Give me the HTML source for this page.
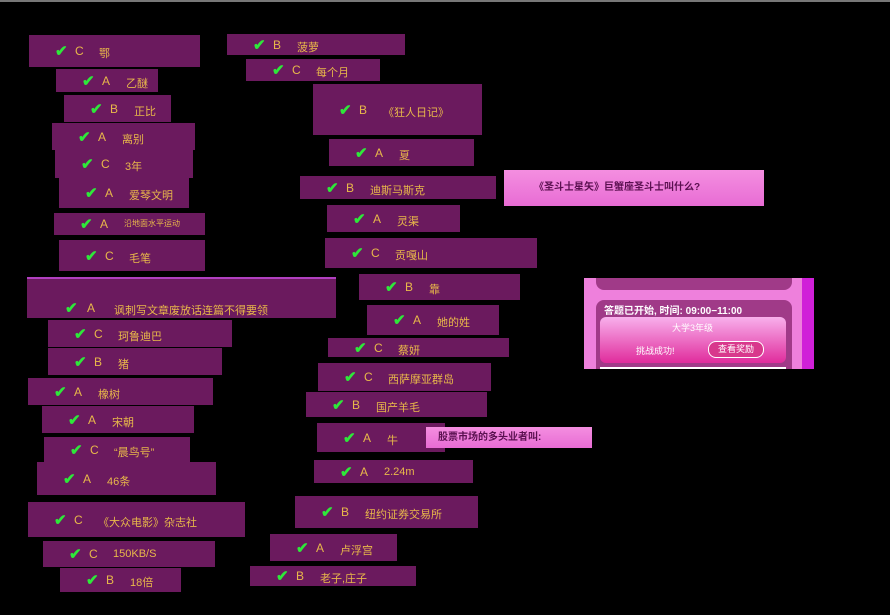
<!DOCTYPE html>
<html><head><meta charset="utf-8"><style>
body{margin:0;width:890px;height:615px;background:#000;position:relative;overflow:hidden;font-family:"Liberation Sans","Noto Sans CJK SC",sans-serif}
.b{position:absolute;background:#6b1a5e;color:#e8b84a;font-size:11px;box-sizing:border-box}
.b span{position:absolute;white-space:nowrap}
.b .l{font-size:12px}
.ck{color:#2ee83a;font-weight:bold;font-size:15px}
.p{position:absolute;background:linear-gradient(#f48ee0,#e86cd4);color:#5a1050;font-size:10px;font-weight:bold;padding-left:30px;box-sizing:border-box}
</style></head><body>
<div style="position:absolute;left:0;top:0;width:890px;height:2px;background:#777"></div>
<div id="c"></div>
<div class="p" style="left:504px;top:170px;width:260px;height:36px;line-height:36px">《圣斗士星矢》巨蟹座圣斗士叫什么?</div>
<div class="p" style="left:426px;top:427px;width:166px;height:21px;line-height:21px;padding-left:12px">股票市场的多头业者叫:</div>
<div style="position:absolute;left:584px;top:278px;width:230px;height:91px;background:#ee80dc">
 <div style="position:absolute;left:12px;top:0;width:196px;height:12px;background:#a03a88;border-radius:0 0 8px 8px"></div>
 <div style="position:absolute;right:0;top:0;width:12px;height:91px;background:#d020d8"></div>
 <div style="position:absolute;left:12px;top:22px;width:196px;height:69px;background:#a03a88;border-radius:8px 8px 0 0"></div>
 <div style="position:absolute;left:20px;top:24px;color:#fff;font-size:10px;font-weight:bold">答题已开始, 时间: 09:00−11:00</div>
 <div style="position:absolute;left:16px;top:39px;width:186px;height:46px;background:linear-gradient(#f8b0ec,#e02c9c);border-radius:6px"></div>
 <div style="position:absolute;left:88px;top:43px;color:#fff;font-size:9px">大学3年级</div>
 <div style="position:absolute;left:52px;top:66px;color:#fff;font-size:9px">挑战成功!</div>
 <div style="position:absolute;left:124px;top:63px;width:54px;height:15px;border:1px solid #fff;border-radius:8px;background:#d8388c;color:#fff;font-size:9px;text-align:center;line-height:15px">查看奖励</div>
 <div style="position:absolute;left:16px;top:89px;width:186px;height:2px;background:#fff"></div>
</div>
<script>
var d=[[29,35,171,32,"C","鄂"],[56,69,102,23,"A","乙醚"],[64,95,107,27,"B","正比"],[52,123,143,27,"A","离别"],[55,150,138,28,"C","3年"],[59,178,130,30,"A","爱琴文明"],[54,213,151,22,"A","沿地面水平运动",1],[59,240,146,31,"C","毛笔"],[27,277,309,41,"A","讽刺写文章废放话连篇不得要领"],[48,320,184,27,"C","珂鲁迪巴"],[48,348,174,27,"B","猪"],[28,378,185,27,"A","橡树"],[42,406,152,27,"A","宋朝"],[44,437,146,26,"C","“晨鸟号”"],[37,462,179,33,"A","46条"],[28,502,217,35,"C","《大众电影》杂志社"],[43,541,172,26,"C","150KB/S"],[60,568,121,24,"B","18倍"],
[227,34,178,21,"B","菠萝"],[246,59,134,22,"C","每个月"],[313,84,169,51,"B","《狂人日记》"],[329,139,145,27,"A","夏"],[300,176,196,23,"B","迪斯马斯克"],[327,205,133,27,"A","灵渠"],[325,238,212,30,"C","贡嘎山"],[359,274,161,26,"B","靠"],[367,305,132,30,"A","她的姓"],[328,338,181,19,"C","蔡妍"],[318,363,173,28,"C","西萨摩亚群岛"],[306,392,181,25,"B","国产羊毛"],[317,423,128,29,"A","牛"],[314,460,159,23,"A","2.24m"],[295,496,183,32,"B","纽约证券交易所"],[270,534,127,27,"A","卢浮宫"],[250,566,166,20,"B","老子,庄子"]];
var h="";d.forEach(function(r){var fs=r[6]?8:11;var ty=r[3]/2-7;
if(r[1]==277)ty=22;
h+='<div class="b" style="left:'+r[0]+'px;top:'+r[1]+'px;width:'+r[2]+'px;height:'+r[3]+'px'+(r[1]==277?';border-top:2px solid #b040c0':'')+'"><span class="ck" style="left:'+(r[1]==277?38:26)+'px;top:'+(ty-2)+'px">✔</span><span class="l" style="left:'+(r[1]==277?60:46)+'px;top:'+(ty)+'px">'+r[4]+'</span><span style="left:'+(r[1]==277?87:70)+'px;top:'+(ty+1)+'px;font-size:'+fs+'px">'+r[5]+'</span></div>';});
document.getElementById("c").innerHTML=h;
</script>
</body></html>
